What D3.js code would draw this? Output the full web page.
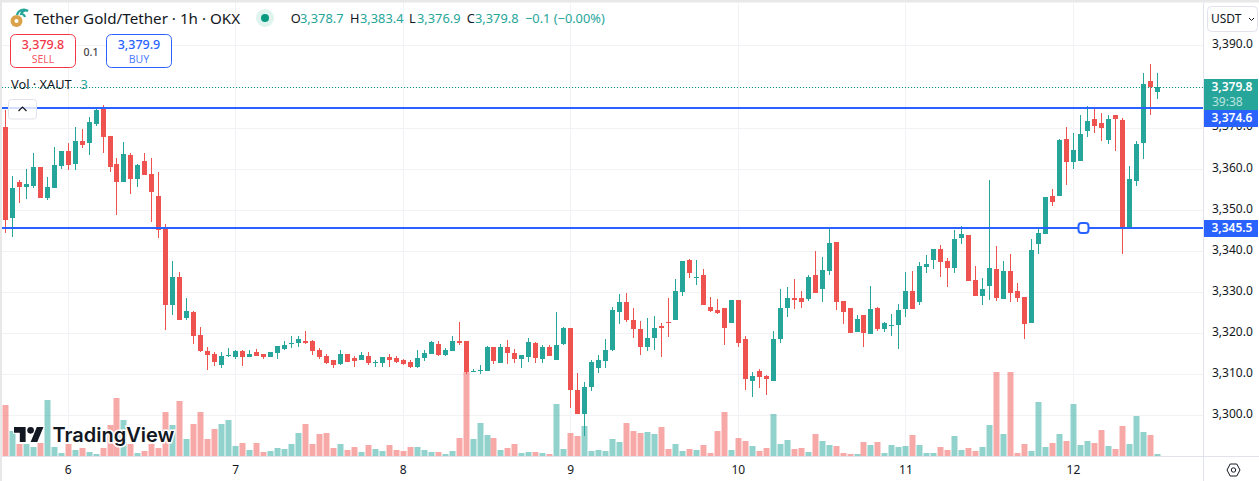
<!DOCTYPE html>
<html>
<head>
<meta charset="utf-8">
<script src="https://cdn.jsdelivr.net/npm/d3@7"></script>
<style>
  html, body { margin: 0; padding: 0; background: #fff; overflow: hidden; }
  text { font-family: "Noto Sans", "Open Sans", sans-serif; }
</style>
</head>
<body>
<svg id="chart" width="1259" height="481"></svg>
<script>
// hourly XAUT/USDT candles
const openValues = [3370.2,3348.0,3356.8,3355.5,3355.8,3360.4,3352.9,3355.3,3360.7,3364.3,3361.1,3366.7,3366.3,3370.9,3374.8,3368.0,3361.1,3356.8,3363.3,3357.5,3361.9,3358.7,3353.4,3345.6,3326.8,3333.6,3323.7,3325.1,3319.5,3315.6,3314.9,3312.2,3314.4,3314.2,3315.6,3314.2,3315.4,3314.9,3314.2,3315.2,3316.1,3317.3,3317.6,3318.0,3318.1,3315.9,3314.4,3313.5,3312.5,3314.9,3314.0,3313.5,3314.4,3312.7,3312.7,3314.2,3314.0,3313.5,3313.0,3311.8,3314.0,3314.9,3317.3,3314.7,3315.6,3318.0,3318.1,3310.5,3310.8,3310.8,3316.6,3312.7,3316.6,3315.2,3313.7,3314.2,3317.6,3313.7,3316.6,3313.5,3317.3,3321.2,3306.2,3300.3,3306.9,3311.5,3313.2,3315.9,3325.1,3327.6,3323.2,3321.0,3316.6,3318.8,3321.7,3322.7,3323.2,3330.0,3337.8,3333.4,3334.1,3326.4,3325.6,3326.1,3322.5,3328.1,3318.6,3308.4,3310.8,3309.6,3308.4,3318.6,3326.1,3328.5,3328.5,3328.3,3334.1,3330.7,3335.1,3342.2,3327.8,3326.1,3320.3,3324.4,3319.8,3326.1,3321.0,3321.7,3322.0,3325.9,3330.3,3327.6,3336.1,3337.8,3340.5,3337.5,3335.8,3343.1,3343.9,3332.9,3329.0,3331.5,3335.6,3328.3,3335.1,3330.3,3328.8,3322.5,3341.7,3344.1,3353.4,3353.4,3367.2,3361.6,3361.9,3369.2,3372.1,3371.1,3367.0,3373.1,3371.9,3345.6,3357.0,3366.3,3381.3,3378.7];
const highValues = [3374.3,3358.2,3357.3,3359.9,3363.8,3360.4,3358.0,3365.3,3364.3,3366.3,3370.2,3369.7,3372.6,3374.8,3375.5,3368.0,3362.6,3366.5,3363.8,3361.1,3363.8,3362.6,3359.2,3346.5,3337.5,3334.9,3328.5,3325.4,3321.5,3316.6,3315.4,3315.4,3316.4,3315.9,3315.9,3315.9,3316.1,3314.9,3315.4,3316.9,3318.1,3319.3,3319.3,3320.5,3318.3,3316.4,3314.9,3313.5,3315.9,3314.9,3314.4,3315.4,3315.4,3313.5,3314.2,3314.9,3314.4,3313.7,3313.5,3315.9,3315.9,3318.1,3318.1,3316.4,3319.3,3322.7,3318.1,3311.3,3312.2,3316.9,3316.6,3317.3,3318.3,3316.1,3314.7,3318.8,3317.8,3317.1,3317.1,3325.1,3321.5,3321.2,3310.3,3308.1,3313.5,3314.7,3318.6,3326.4,3329.5,3329.8,3326.1,3322.9,3323.7,3324.2,3322.5,3328.5,3333.2,3337.5,3338.0,3337.8,3335.6,3328.8,3328.3,3326.1,3328.1,3328.1,3319.3,3310.5,3311.3,3309.8,3320.5,3330.7,3331.2,3333.2,3330.3,3334.1,3340.0,3338.5,3345.6,3342.2,3327.8,3326.1,3324.4,3324.4,3331.5,3326.4,3322.7,3324.6,3327.1,3334.9,3335.1,3337.3,3339.0,3340.5,3341.4,3338.3,3345.1,3346.1,3343.9,3336.3,3333.4,3357.3,3341.2,3337.5,3339.2,3332.2,3328.8,3342.9,3345.6,3353.1,3355.0,3367.2,3370.2,3368.7,3373.1,3375.3,3374.8,3373.6,3373.1,3373.1,3372.3,3360.7,3366.7,3383.3,3385.5,3383.4];
const lowValues = [3344.4,3343.5,3351.7,3352.6,3355.3,3352.9,3352.4,3355.3,3359.9,3359.7,3359.7,3365.0,3363.3,3370.4,3363.8,3359.2,3348.7,3356.8,3353.8,3355.5,3358.5,3347.0,3343.1,3320.7,3324.4,3323.2,3323.2,3317.3,3315.4,3311.0,3312.0,3311.5,3314.2,3313.7,3312.0,3314.2,3314.4,3313.7,3314.2,3313.7,3315.9,3316.4,3316.6,3317.3,3314.7,3313.7,3312.5,3311.5,3312.2,3313.0,3311.8,3313.5,3312.2,3311.8,3311.8,3311.8,3312.7,3312.2,3311.5,3311.5,3313.2,3314.9,3314.4,3314.4,3315.6,3317.1,3310.0,3310.5,3310.0,3310.8,3312.5,3312.7,3312.5,3312.7,3311.5,3313.0,3312.7,3312.7,3314.4,3313.5,3317.1,3301.8,3300.3,3295.0,3306.0,3310.3,3311.5,3315.6,3322.2,3322.7,3318.8,3314.7,3315.6,3315.9,3314.2,3319.1,3323.2,3329.0,3333.4,3331.7,3326.8,3325.1,3324.6,3317.1,3322.5,3316.6,3306.2,3304.5,3306.6,3304.9,3308.4,3317.6,3323.9,3325.9,3326.1,3327.8,3329.8,3327.6,3334.1,3325.6,3322.2,3320.0,3320.3,3316.6,3319.8,3320.5,3320.3,3319.3,3316.1,3323.9,3325.9,3326.8,3334.6,3335.6,3333.6,3331.2,3334.6,3341.7,3332.7,3329.0,3326.8,3328.1,3327.8,3328.3,3327.6,3327.6,3318.6,3322.5,3339.2,3344.1,3351.0,3353.4,3356.0,3359.9,3361.9,3367.7,3368.7,3366.7,3366.0,3364.3,3339.2,3345.6,3355.8,3362.4,3373.1,3377.0];
const closeValues = [3347.5,3355.3,3355.5,3356.3,3360.4,3352.9,3355.5,3360.9,3364.3,3360.9,3366.7,3365.8,3371.4,3374.3,3367.7,3360.4,3356.8,3363.6,3357.5,3360.9,3358.5,3354.3,3345.1,3326.8,3333.6,3323.2,3325.4,3319.3,3315.6,3314.7,3313.0,3314.4,3314.7,3315.6,3314.2,3314.9,3314.4,3314.2,3315.4,3316.9,3317.1,3317.6,3318.6,3317.7,3315.6,3314.2,3312.7,3312.2,3314.9,3313.0,3313.2,3314.7,3312.7,3313.0,3314.2,3313.5,3313.0,3312.5,3311.8,3314.0,3315.2,3317.8,3314.7,3315.9,3318.1,3317.7,3310.5,3310.8,3311.0,3316.6,3313.2,3316.6,3315.2,3313.7,3314.7,3317.8,3314.0,3316.6,3314.4,3317.1,3321.2,3306.2,3300.3,3306.9,3313.0,3313.5,3315.9,3325.6,3327.6,3323.2,3321.0,3316.6,3318.8,3321.2,3321.2,3322.5,3330.3,3337.5,3334.6,3333.6,3326.8,3325.4,3324.9,3321.2,3328.1,3317.6,3308.8,3309.6,3309.3,3308.8,3318.6,3326.1,3328.5,3328.1,3327.6,3333.6,3329.8,3335.4,3341.9,3327.6,3325.1,3320.0,3323.4,3320.0,3325.9,3321.0,3322.5,3322.0,3325.6,3330.3,3325.9,3336.3,3336.8,3340.5,3337.3,3335.8,3342.9,3344.1,3332.7,3329.0,3330.7,3335.8,3328.5,3335.1,3329.8,3328.5,3322.2,3340.2,3344.4,3353.1,3351.9,3367.0,3361.6,3364.5,3368.4,3371.6,3370.4,3369.9,3372.1,3372.1,3345.6,3357.5,3366.0,3380.6,3379.9,3379.8];
const volumeValues = [76.5,37.5,18,18,13.5,19.5,84,13.5,4.5,18,9,12,6,3,12,46.5,87,54,18,4.5,7.5,18,12,66,46.5,82.5,25.5,48,66,25.5,40.5,48,54,15,19.5,9,19.5,6,7.5,12,10.5,18,34.5,48,18,33,34.5,12,18,9,13.5,6,16.5,10.5,7.5,16.5,9,7.5,13.5,13.5,9,6,6,3,7.5,27,126,25.5,49.5,31.5,27,9,12,18,4.5,6,6,4.5,3,78,10.5,34.5,30,45,7.5,9,7.5,25.5,21,49.5,37.5,34.5,36,33,43.5,10.5,18,7.5,10.5,9,16.5,4.5,37.5,66,9,27,22.5,15,7.5,12,63,18,24,10.5,12,6,33,22.5,16.5,15,4.5,3,3,21,16.5,21,4.5,16.5,13.5,15,31.5,16.5,4.5,4.5,13.5,9,30,9,12,7.5,13.5,46.5,126,33,126,4.5,18,7.5,81,13.5,19.5,33,22.5,78,16.5,22.5,19.5,39,15,10.5,45,18,60,36,31.5,3];
const priceTicks = [3300,3310,3320,3330,3340,3350,3360,3370,3380,3390];
// 3,380.0 sits fully behind the last price tag, so only its grid line shows
const labelledPriceTicks = [3300,3310,3320,3330,3340,3350,3360,3370,3390];
const dayLabels = ['6','7','8','9','10','11','12'];
const dayCandles = [9,33,57,81,105,129,153];
const drawnLevels = [3374.6,3345.5];
const lastPrice = 3379.8;

const GREEN = '#26a69a', RED = '#ef5350', BLUE = '#2962ff', GRID = '#f1f2f5', BORDER = '#e0e3eb', INK = '#131722';
const fmt = d3.format(',.1f');

const svg = d3.select('#chart');
const x = d3.scaleLinear().domain([0, 165]).range([5.29, 1157.206]);
const y = d3.scaleLinear().domain([3300, 3390]).range([415.3, 45.4]);
const vol = d3.scaleLinear().domain([0, 126]).range([456, 372]);
const candles = openValues.map((o, i) => ({
  i, o, h: highValues[i], l: lowValues[i], c: closeValues[i], v: volumeValues[i],
  up: closeValues[i] >= o
}));
const cx = i => Math.floor(x(i));

// window chrome
svg.append('rect').attr('width', 1259).attr('height', 481).attr('fill', '#fff');
svg.append('rect').attr('width', 1259).attr('height', 2.5).attr('fill', '#e8e8e8');
svg.append('rect').attr('width', 2).attr('height', 481).attr('fill', '#e8e8e8');

// grid
svg.append('g').selectAll('line').data(priceTicks).join('line')
  .attr('x1', 2).attr('x2', 1203)
  .attr('y1', d => Math.round(y(d)) + 0.5).attr('y2', d => Math.round(y(d)) + 0.5)
  .attr('stroke', GRID);
svg.append('g').selectAll('line').data(dayCandles).join('line')
  .attr('x1', d => cx(d) + 0.5).attr('x2', d => cx(d) + 0.5)
  .attr('y1', 3).attr('y2', 456)
  .attr('stroke', GRID);

// volume
svg.append('g').selectAll('rect').data(candles).join('rect')
  .attr('x', d => cx(d.i) - 2.5).attr('width', 6)
  .attr('y', d => Math.round(vol(d.v))).attr('height', d => 456 - Math.round(vol(d.v)))
  .attr('fill', d => d.up ? GREEN : RED).attr('fill-opacity', 0.5);

// candles
const candle = svg.append('g').selectAll('g').data(candles).join('g')
  .attr('fill', d => d.up ? GREEN : RED);
candle.append('rect')
  .attr('x', d => cx(d.i)).attr('width', 1)
  .attr('y', d => Math.round(y(d.h))).attr('height', d => Math.max(1, Math.round(y(d.l)) - Math.round(y(d.h))));
candle.append('rect')
  .attr('x', d => cx(d.i) - 2).attr('width', 5)
  .attr('y', d => Math.round(y(Math.max(d.o, d.c))))
  .attr('height', d => Math.max(1, Math.round(y(Math.min(d.o, d.c))) - Math.round(y(Math.max(d.o, d.c)))));

// last price dotted line
svg.append('line')
  .attr('x1', 2).attr('x2', 1203)
  .attr('y1', Math.round(y(lastPrice)) + 0.5).attr('y2', Math.round(y(lastPrice)) + 0.5)
  .attr('stroke', '#089981').attr('stroke-dasharray', '1 2');

// drawn horizontal levels
svg.append('g').selectAll('line').data(drawnLevels).join('line')
  .attr('x1', 2).attr('x2', 1203)
  .attr('y1', d => Math.floor(y(d))).attr('y2', d => Math.floor(y(d)))
  .attr('stroke', BLUE).attr('stroke-width', 2);
svg.append('rect')
  .attr('x', 1078.5).attr('y', Math.floor(y(drawnLevels[1])) - 5)
  .attr('width', 10).attr('height', 10).attr('rx', 3)
  .attr('fill', '#fff').attr('stroke', BLUE).attr('stroke-width', 2);

// axes
svg.append('line').attr('x1', 1203.5).attr('x2', 1203.5).attr('y1', 3).attr('y2', 481).attr('stroke', BORDER);
svg.append('line').attr('x1', 2).attr('x2', 1259).attr('y1', 456.5).attr('y2', 456.5).attr('stroke', BORDER);
const priceAxis = svg.append('g').attr('transform', 'translate(1203,-1.5)')
  .call(d3.axisRight(y).tickValues(labelledPriceTicks).tickFormat(fmt).tickSize(0).tickPadding(9));
priceAxis.select('.domain').remove();
const timeAxis = svg.append('g').attr('transform', 'translate(-0.5,456)')
  .call(d3.axisBottom(x).tickValues(dayCandles).tickFormat((d, i) => dayLabels[i]).tickSize(0).tickPadding(9));
timeAxis.select('.domain').remove();
svg.selectAll('.tick text').attr('font-size', 12).attr('fill', INK).style('font-family', '"Noto Sans", sans-serif');

// price labels
function priceTag(top, h, color, label) {
  svg.append('rect').attr('x', 1204).attr('y', top).attr('width', 54).attr('height', h).attr('fill', color);
  svg.append('text').attr('x', 1232).attr('y', top + 12).attr('text-anchor', 'middle')
    .attr('font-size', 12).attr('font-weight', 600).attr('fill', '#fff').text(label);
}
priceTag(79, 31, GREEN, fmt(lastPrice));
svg.append('text').attr('x', 1212).attr('y', 105.5)
  .attr('font-size', 12).attr('fill', '#fff').attr('fill-opacity', 0.7).text('39:38');
priceTag(110, 17, BLUE, fmt(drawnLevels[0]));
priceTag(220, 17, BLUE, fmt(drawnLevels[1]));

// currency button
svg.append('rect').attr('x', 1207.5).attr('y', 6.5).attr('width', 50).attr('height', 25).attr('rx', 4)
  .attr('fill', '#fff').attr('stroke', BORDER);
svg.append('text').attr('x', 1211).attr('y', 23).attr('font-size', 12).attr('fill', INK).text('USDT');
svg.append('path').attr('d', 'M1249 18l2.5 2.5 2.5-2.5').attr('fill', 'none').attr('stroke', INK);

// settings gear
svg.append('path').attr('d', 'M1227 470l3.2-6h6.6l3.2 6-3.2 6h-6.6z').attr('fill', 'none').attr('stroke', INK);
svg.append('circle').attr('cx', 1233.5).attr('cy', 470).attr('r', 2.2).attr('fill', 'none').attr('stroke', INK);

// legend
const coin = svg.append('g');
coin.append('circle').attr('cx', 16.5).attr('cy', 21).attr('r', 6).attr('fill', '#d9a24a');
coin.append('circle').attr('cx', 16.5).attr('cy', 21).attr('r', 2).attr('fill', '#fff');
coin.append('path').attr('d', 'M17 15a7 7 0 0 1 11-4a5 5 0 0 0-7 3a4 4 0 0 1 4 3').attr('fill', 'none').attr('stroke', '#26a69a').attr('stroke-width', 2.2);
svg.append('text').attr('x', 33.5).attr('y', 23.5).attr('font-size', 15.2).attr('fill', INK).text('Tether Gold/Tether · 1h · OKX');
svg.append('circle').attr('cx', 265).attr('cy', 18).attr('r', 9).attr('fill', '#dff3ef');
svg.append('circle').attr('cx', 265).attr('cy', 18).attr('r', 4).attr('fill', '#089981');

const legendParts = [
  [290.7, 'O', INK], [300, fmt(3378.7), GREEN],
  [350, 'H', INK], [360, fmt(3383.4), GREEN],
  [409, 'L', INK], [417, fmt(3376.9), GREEN],
  [466.7, 'C', INK], [475, fmt(3379.8), GREEN],
  [525, '−0.1 (−0.00%)', GREEN]
];
svg.append('g').selectAll('text').data(legendParts).join('text')
  .attr('x', d => d[0]).attr('y', 23).attr('font-size', 12.8).attr('fill', d => d[2]).text(d => d[1]);

function tradeBox(left, color, price, label) {
  svg.append('rect').attr('x', left).attr('y', 34.5).attr('width', 65).attr('height', 33).attr('rx', 5)
    .attr('fill', '#fff').attr('stroke', color);
  svg.append('text').attr('x', left + 32.5).attr('y', 49).attr('text-anchor', 'middle')
    .attr('font-size', 12.5).attr('font-weight', 500).attr('fill', color).text(price);
  svg.append('text').attr('x', left + 32.5).attr('y', 63).attr('text-anchor', 'middle')
    .attr('font-size', 10.5).attr('fill', color).attr('fill-opacity', 0.85).text(label);
}
tradeBox(10.5, '#f23645', '3,379.8', 'SELL');
tradeBox(106.5, BLUE, '3,379.9', 'BUY');
svg.append('text').attr('x', 91).attr('y', 56).attr('text-anchor', 'middle').attr('font-size', 10.5).attr('font-weight', 500).attr('fill', '#444').text('0.1');

svg.append('text').attr('x', 11).attr('y', 88.5).attr('font-size', 12.8).attr('fill', INK).text('Vol · XAUT');
svg.append('text').attr('x', 80.5).attr('y', 88.5).attr('font-size', 12.8).attr('fill', GREEN).text('3');

// collapse button
svg.append('rect').attr('x', 8.5).attr('y', 99.5).attr('width', 28).attr('height', 19.5).attr('rx', 3)
  .attr('fill', '#fff').attr('fill-opacity', 0.8).attr('stroke', BORDER);
svg.append('path').attr('d', 'M18.5 111l4-4 4 4').attr('fill', 'none').attr('stroke', INK).attr('stroke-width', 1.2);

// watermark
const mark = svg.append('g').attr('transform', 'translate(14,423.7) scale(0.83)');
mark.append('path').attr('d', 'M14 22H7V11H0V4h14v18zM28 22h-8l7.5-18h8L28 22z')
  .attr('fill', '#131722').attr('stroke', '#fff').attr('stroke-width', 2).attr('paint-order', 'stroke');
mark.append('circle').attr('cx', 20).attr('cy', 8).attr('r', 4).attr('fill', '#131722');
svg.append('text').attr('x', 52.5).attr('y', 442).attr('font-size', 20).attr('font-weight', 600)
  .style('font-family', 'Inter, sans-serif')
  .attr('fill', '#131722').attr('stroke', '#fff').attr('stroke-width', 3).attr('paint-order', 'stroke')
  .text('TradingView');
</script>
</body>
</html>
